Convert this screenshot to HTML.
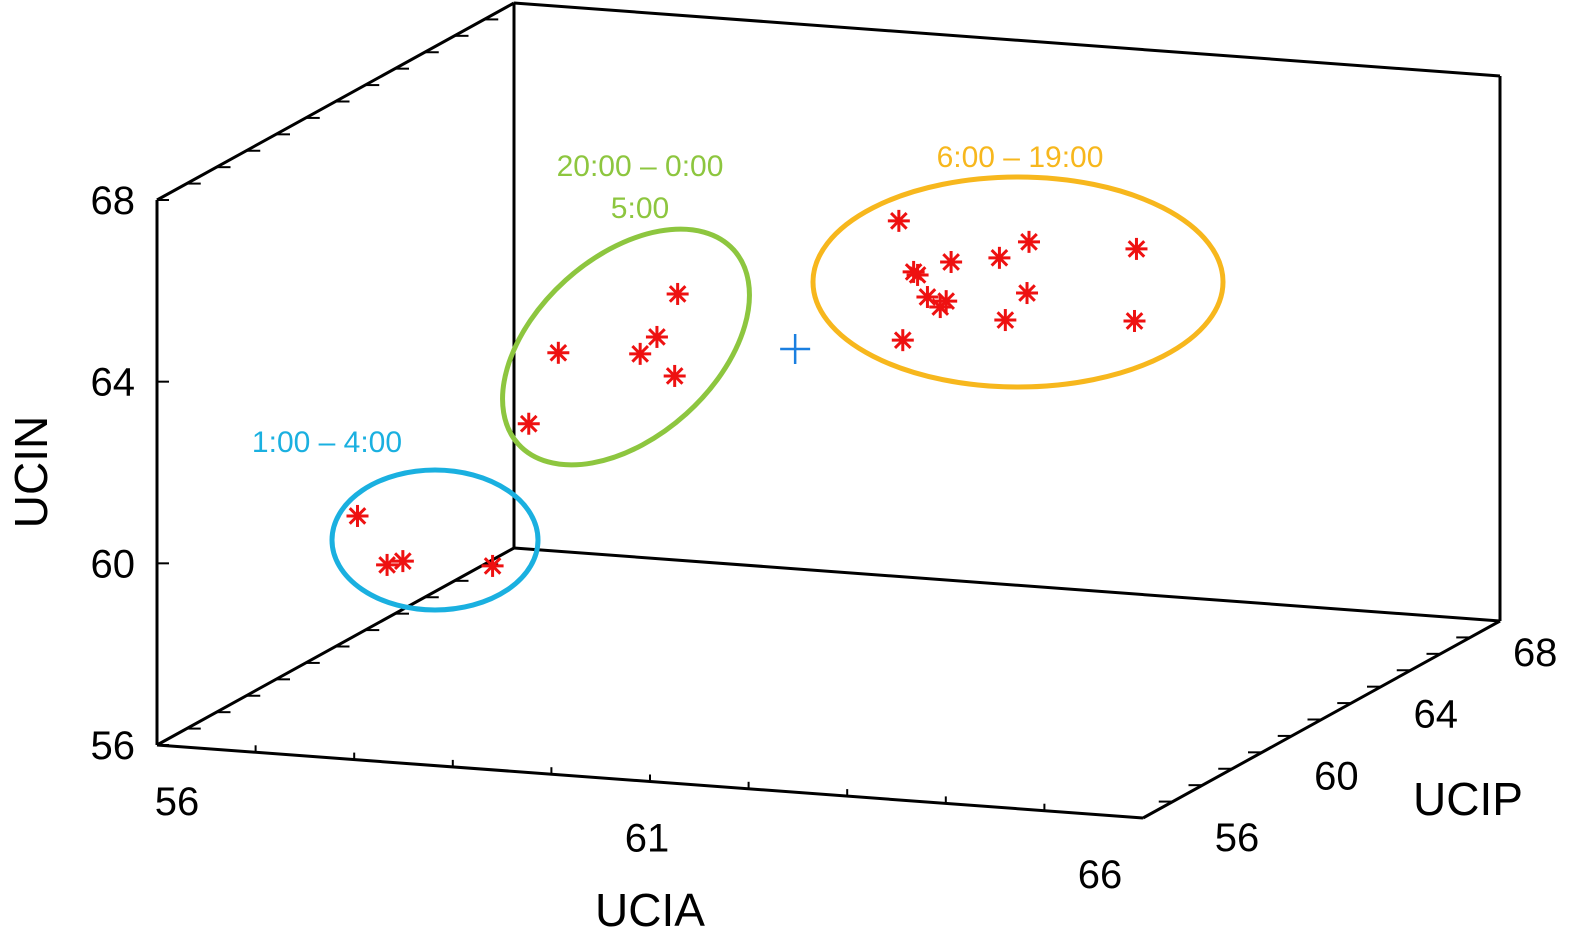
<!DOCTYPE html>
<html><head><meta charset="utf-8"><style>
html,body{margin:0;padding:0;background:#fff;}
svg{display:block;font-family:"Liberation Sans",Arial,sans-serif;}
</style></head><body>
<svg id="chart" width="1578" height="943" viewBox="0 0 1578 943" xmlns="http://www.w3.org/2000/svg">
<g id="box" stroke="#000" stroke-width="3" fill="none"></g>
<g id="ticks" stroke="#000" stroke-width="2" fill="none"></g>
<g id="labels" font-size="40" fill="#000"></g>
<text x="650" y="926" font-size="46" text-anchor="middle">UCIA</text>
<text x="1468" y="815" font-size="46" text-anchor="middle">UCIP</text>
<text transform="translate(47,472) rotate(-90)" font-size="46" text-anchor="middle">UCIN</text>
<ellipse cx="435" cy="540" rx="103" ry="70" fill="none" stroke="#1ab0e0" stroke-width="5"/>
<ellipse cx="626" cy="347" rx="145" ry="90" transform="rotate(-42 626 347)" fill="none" stroke="#8dc63f" stroke-width="5"/>
<ellipse cx="1018" cy="282" rx="205" ry="105" fill="none" stroke="#f7b71d" stroke-width="5"/>
<text x="327" y="452" font-size="30" fill="#1ab0e0" text-anchor="middle">1:00 – 4:00</text>
<text x="640" y="176" font-size="30" fill="#8dc63f" text-anchor="middle">20:00 – 0:00</text>
<text x="640" y="218" font-size="30" fill="#8dc63f" text-anchor="middle">5:00</text>
<text x="1020" y="167" font-size="30" fill="#f7b71d" text-anchor="middle">6:00 – 19:00</text>
<g id="points"></g>
</svg>
<script>
// data values: UCIA, UCIP, UCIN
const ucia = [57.43,57.73,57.89,58.80, 57.96,58.26,59.09,59.26,59.47,59.44, 61.11,61.26,61.30,61.64,61.40,61.53,61.59,62.13,62.43,62.41,62.19,61.15,63.52,63.50];
const ucip = [58,58,58,58, 62,62,62,62,62,62, 64,64,64,64,64,64,64,64,64,64,64,64,64,64];
const ucin = [60.55,59.52,59.63,59.67, 61.22,62.83,62.94,63.34,64.32,62.51, 65.47,64.37,64.31,64.65,63.84,63.64,63.78,64.82,65.22,64.09,63.46,62.85,65.24,63.65];
const centroid = [60.36, 63, 62.89];
const iaTicks = [56,61,66];
const ipTicks = [56,60,64,68];
const inTicks = [56,60,64,68];

const NS="http://www.w3.org/2000/svg";
const O=[157,745], A=[986,73], B=[357,-197], Cz=[0,-545];
function proj(a,p,n){
  const ta=(a-56)/10, tp=(p-56)/12, tn=(n-56)/12;
  return [O[0]+ta*A[0]+tp*B[0]+tn*Cz[0], O[1]+ta*A[1]+tp*B[1]+tn*Cz[1]];
}
function mk(tag,attrs,parent){const e=document.createElementNS(NS,tag);for(const k in attrs)e.setAttribute(k,attrs[k]);parent.appendChild(e);return e;}
const box=document.getElementById('box');
function line(p,q,parent){return mk('line',{x1:p[0],y1:p[1],x2:q[0],y2:q[1]},parent);}
const edges=[
 [[56,56,56],[66,56,56]],[[56,56,56],[56,68,56]],[[56,68,56],[66,68,56]],[[66,56,56],[66,68,56]],
 [[56,56,56],[56,56,68]],[[56,68,56],[56,68,68]],[[66,68,56],[66,68,68]],
 [[56,56,68],[56,68,68]],[[56,68,68],[66,68,68]]];
edges.forEach(e=>{const l=line(proj(...e[0]),proj(...e[1]),box);

});
const tk=document.getElementById('ticks');
for(let a=57;a<66;a+=1){const p=proj(a,56,56);const l=line(p,[p[0],p[1]-7],tk);

}
for(let p=57;p<68;p+=1){const q=proj(56,p,56);const l=line(q,[q[0]+14,q[1]],tk);


const r=proj(66,p,56);const l2=line(r,[r[0]-14,r[1]],tk);


const s=proj(56,p,68);const l3=line(s,[s[0]+14,s[1]],tk);

}
inTicks.forEach(n=>{const q=proj(56,56,n);const l=line(q,[q[0]+12,q[1]],tk);

});
const lb=document.getElementById('labels');
inTicks.forEach(n=>{const q=proj(56,56,n);const t=mk('text',{x:q[0]-22,y:q[1]+14,'text-anchor':'end'},lb);t.textContent=n;

});
iaTicks.forEach(a=>{const q=proj(a,56,56);const t=mk('text',{x:q[0]+(a==56?20:a==66?-43:-3),y:q[1]+70,'text-anchor':'middle'},lb);t.textContent=a;

});
ipTicks.forEach(p=>{const q=proj(66,p,56);const t=mk('text',{x:q[0]+94-(p-56)*4.9,y:q[1]+33+(p-56)*1,'text-anchor':'middle'},lb);t.textContent=p;

});
const pts=document.getElementById('points');
for(let i=0;i<ucia.length;i++){
  const [x,y]=proj(ucia[i],ucip[i],ucin[i]);
  const g=mk('g',{transform:`translate(${x},${y})`,stroke:'#ee1111','stroke-width':3},pts);
  
  
  for(let k=0;k<4;k++){const ang=k*Math.PI/4;mk('line',{x1:-11*Math.cos(ang),y1:-11*Math.sin(ang),x2:11*Math.cos(ang),y2:11*Math.sin(ang)},g);}
}
const [cx,cy]=proj(...centroid);
const cg=mk('g',{transform:`translate(${cx},${cy})`,stroke:'#1a7fe0','stroke-width':2.5},pts);


mk('line',{x1:-15,y1:0,x2:15,y2:0},cg);mk('line',{x1:0,y1:-15,x2:0,y2:15},cg);
</script>
</body></html>
